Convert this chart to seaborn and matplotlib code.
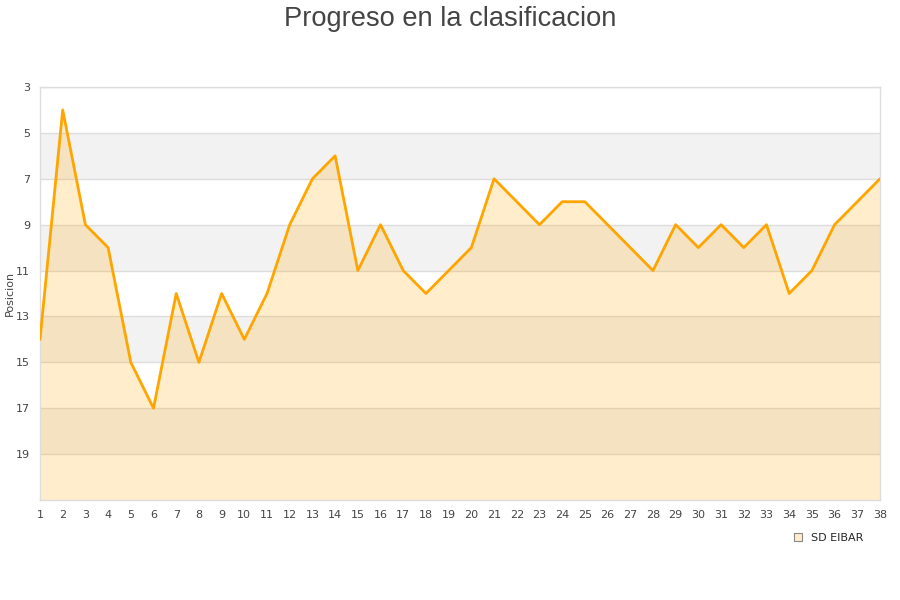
import matplotlib
matplotlib.use("Agg")
import matplotlib.pyplot as plt
import seaborn as sns
import pandas as pd
from matplotlib.patches import Patch

# --- Datos ---
jornadas = list(range(1, 39))
posiciones = [14, 4, 9, 10, 15, 17, 12, 15, 12, 14,
              12, 9, 7, 6, 11, 9, 11, 12, 11, 10,
              7, 8, 9, 8, 8, 9, 10, 11, 9, 10,
              9, 10, 9, 12, 11, 9, 8, 7]
equipo = "SD EIBAR"
titulo = "Progreso en la clasificacion"
etiqueta_y = "Posicion"
ticks_y = [3, 5, 7, 9, 11, 13, 15, 17, 19]

df = pd.DataFrame({"Jornada": jornadas, "Posicion": posiciones})

sns.set_theme(style="white")
plt.rcParams["font.family"] = ["DejaVu Sans"]

fig = plt.figure(figsize=(9, 6), dpi=100)
ax = fig.add_axes([40 / 900, 1 - 500 / 600, 840 / 900, 413 / 600])

# Bandas alternas grises
for y0 in [5, 9, 13, 17]:
    ax.axhspan(y0, y0 + 2, color="#f2f2f2", zorder=0, lw=0)
for y in ticks_y:
    ax.axhline(y, color="#dddddd", lw=1, zorder=1)

# Area y linea
ax.fill_between(df["Jornada"], df["Posicion"], 21, color="#ffa500", alpha=0.2, lw=0, zorder=2)
sns.lineplot(data=df, x="Jornada", y="Posicion", color="#ffa500", lw=2, ax=ax, zorder=3)

ax.set_xlim(1, 38)
ax.set_ylim(21, 3)
ax.set_xticks(jornadas)
ax.set_yticks(ticks_y)
ax.tick_params(axis="both", labelsize=8, colors="#444444", length=0, pad=7)
ax.set_xlabel("")
ax.set_ylabel(etiqueta_y, fontsize=8, color="#444444")
ax.yaxis.set_label_coords(-0.03, 0.5)
for s in ax.spines.values():
    s.set_color("#dddddd")
    s.set_linewidth(1)

fig.suptitle(titulo, y=0.99, fontsize=19.6, color="#444444", family="Liberation Sans")

handle = Patch(facecolor="#ffedcc", edgecolor="#888888", lw=0.8)
fig.legend([handle], [equipo], loc="center", bbox_to_anchor=(0.921, 0.103),
           frameon=False, fontsize=8, handlelength=0.7, handleheight=0.7, handletextpad=0.8)

fig.savefig("out.png", dpi=100)
